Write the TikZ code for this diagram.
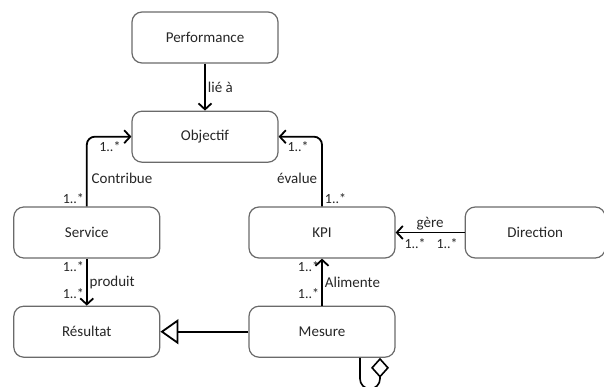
\documentclass[tikz,border=0pt]{standalone}
\usepackage{fontspec}
\setmainfont{Carlito}
\usepackage{tikz}
\usetikzlibrary{positioning, arrows.meta}
\definecolor{umlgray}{HTML}{6A6A6A}
\definecolor{umltext}{HTML}{262626}

\begin{document}
\begin{tikzpicture}[x=1pt, y=-1pt,
    node distance=47pt and 88pt,
    box/.style={draw=umlgray, rounded corners=10pt, fill=white, line width=1.2pt, font=\fontsize{15}{18}\selectfont, text=umltext, minimum height=51pt, minimum width=146pt, inner sep=0pt},
    link/.style={line width=1.8pt, -{Straight Barb[length=6pt, width=13pt]}},
    gen/.style={line width=1.8pt, -{Triangle[open, length=18pt, width=25pt]}},
    aggr/.style={line width=1.6pt, {Diamond[open, length=20pt, width=18pt]}-},
    mult/.style={font=\fontsize{14}{16}\selectfont, text=umltext, inner sep=2pt},
    lbl/.style={font=\fontsize{15}{18}\selectfont, text=umltext, inner sep=2pt}
  ]
    \useasboundingbox (0,0) rectangle (604,387);

    \node[box] (perf) at (205,37.5) {Performance};
    \node[box, below=of perf] (objectif) {Objectif};
    \node[box] (kpi) at (322,232.5) {KPI};
    \node[box, left=of kpi] (service) {Service};
    \node[box, right=69pt of kpi, minimum width=140pt] (direction) {Direction};
    \node[box, below=of service] (resultat) {Résultat};
    \node[box, below=of kpi] (mesure) {Mesure};

    \draw[link] (perf) -- (objectif) node[lbl, pos=0.5, anchor=west] {lié à};
    \draw[link, rounded corners=8pt] (service.north) |- (objectif.west)
      node[mult, pos=0, anchor=south east] {1..*}
      node[lbl, pos=0.2, anchor=west, xshift=2pt] {Contribue}
      node[mult, pos=1, anchor=north east, xshift=-8pt, yshift=-2pt] {1..*};
    \draw[link, rounded corners=8pt] (kpi.north) |- (objectif.east)
      node[mult, pos=0, anchor=south west] {1..*}
      node[lbl, pos=0.2, anchor=east, xshift=-2pt] {évalue}
      node[mult, pos=1, anchor=north west, xshift=6pt, yshift=-2pt] {1..*};
    \draw[link] (direction) -- (kpi)
      node[lbl, pos=0.5, anchor=south] {gère}
      node[mult, pos=0, anchor=north east, xshift=-4pt, yshift=-3pt] {1..*}
      node[mult, pos=1, anchor=north west, xshift=6pt, yshift=-3pt] {1..*};
    \draw[link] (service) -- (resultat)
      node[mult, pos=0, anchor=north east] {1..*}
      node[lbl, pos=0.5, anchor=west] {produit}
      node[mult, pos=1, anchor=south east, yshift=4pt] {1..*};
    \draw[link] (mesure) -- (kpi)
      node[mult, pos=0, anchor=south east, yshift=4pt] {1..*}
      node[lbl, pos=0.5, anchor=west] {Alimente}
      node[mult, pos=1, anchor=north east] {1..*};
    \draw[gen] (mesure) -- (resultat);
    % self aggregation under Mesure
    \draw[aggr] ([xshift=58pt]mesure.south) -- ++(0,21)
      arc[start angle=0, end angle=180, radius=10] -- ([xshift=38pt]mesure.south);
  \end{tikzpicture}
\end{document}
